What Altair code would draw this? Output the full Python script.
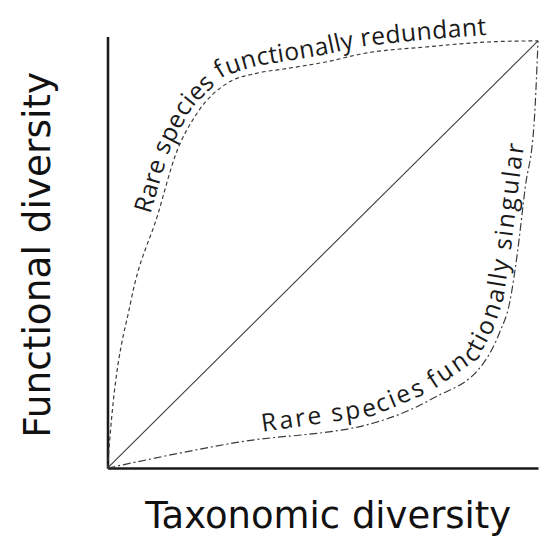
import math
import numpy as np
import pandas as pd
import altair as alt

# ---------------- data (unit square) ----------------
diag_x = [0.0, 1.0]
diag_y = [0.0, 1.0]

upper_x = [0.0, 0.007, 0.055, 0.117, 0.158, 0.209, 0.278, 0.346, 0.415, 0.514, 0.592, 0.743, 0.897, 1.0]
upper_y = [0.0, 0.088, 0.394, 0.594, 0.733, 0.832, 0.901, 0.924, 0.935, 0.952, 0.970, 0.986, 0.998, 1.0]

lower_x = [0.0, 0.300, 0.620, 0.757, 0.872, 0.911, 0.934, 0.952, 0.970, 0.991, 1.0]
lower_y = [0.0, 0.060, 0.106, 0.164, 0.244, 0.318, 0.387, 0.503, 0.655, 0.809, 1.0]

upper_label = "Rare species functionally redundant"
lower_label = "Rare species functionally singular"
x_title = "Taxonomic diversity"
y_title = "Functional diversity"

# ---------------- layout / style ----------------
W, H = 437, 438
YMAX = 1.01
TITLE_FONT = "DejaVu Sans"
CURVE_FONT = "Open Sans"
INK = "#1a1a1a"

# Open Sans advance widths (per 1000 em) used to space letters along the curves
WIDTHS = {" ": 260, "R": 628, "a": 556, "r": 408, "e": 561, "s": 479, "p": 613,
          "c": 480, "i": 258, "f": 344, "u": 613, "n": 613, "t": 352, "o": 602,
          "l": 258, "y": 500, "d": 613, "g": 539}


def curve_text(label, xs, ys, start_xy, end_xy, offset, fs):
    """Lay the label's letters along a path parallel to the curve (offset px
    to the left of the direction of travel), between two points of the curve."""
    X = np.array(xs) * W
    Y = (YMAX - np.array(ys)) * H / YMAX
    seg = np.hypot(np.diff(X), np.diff(Y))
    cum = np.concatenate([[0.0], np.cumsum(seg)])
    L = cum[-1]

    def pt(s):
        s = np.clip(s, 0.0, L)
        return np.interp(s, cum, X), np.interp(s, cum, Y)

    # dense samples of the curve, smoothed tangents, offset path
    ss = np.linspace(0, L, int(L) * 2 + 1)
    h = 12.0
    xa, ya = pt(ss - h)
    xb, yb = pt(ss + h)
    tx, ty = xb - xa, yb - ya
    nrm = np.hypot(tx, ty)
    nrm[nrm == 0] = 1.0
    tx, ty = tx / nrm, ty / nrm
    px, py = pt(ss)
    qx, qy = px + ty * offset, py - tx * offset
    qcum = np.concatenate([[0.0], np.cumsum(np.hypot(np.diff(qx), np.diff(qy)))])
    ang = np.degrees(np.unwrap(np.arctan2(ty, tx)))

    def nearest_t(xy):
        ex, ey = xy[0] * W, (YMAX - xy[1]) * H / YMAX
        i = int(np.argmin((qx - ex) ** 2 + (qy - ey) ** 2))
        return qcum[i]

    t0, t1 = nearest_t(start_xy), nearest_t(end_xy)
    adv = [WIDTHS.get(c, 550) * fs / 1000.0 for c in label]
    k = (t1 - t0) / sum(adv)
    rows = []
    acc = 0.0
    for c, a in zip(label, adv):
        t = t0 + k * (acc + a / 2.0)
        acc += a
        if c == " ":
            continue
        cx = float(np.interp(t, qcum, qx))
        cy = float(np.interp(t, qcum, qy))
        ca = float(np.interp(t, qcum, ang)) % 360
        rows.append({"x": cx / W, "y": YMAX - cy * YMAX / H, "ch": c, "angle": ca, "fs": fs})
    return rows


chars = pd.DataFrame(
    curve_text(upper_label, upper_x, upper_y, (0.075, 0.60), (0.88, 1.02), 7.5, 25)
    + curve_text(lower_label, lower_x, lower_y, (0.36, 0.06), (0.965, 0.76), 7.0, 25)
)

df_diag = pd.DataFrame({"x": diag_x, "y": diag_y})
df_up = pd.DataFrame({"x": upper_x, "y": upper_y})
df_lo = pd.DataFrame({"x": lower_x, "y": lower_y})

xaxis = alt.Axis(title=x_title, ticks=False, labels=False, grid=False,
                 domainColor=INK, domainWidth=2.6,
                 titleFont=TITLE_FONT, titleFontSize=37.5, titleFontWeight="normal",
                 titleColor="#111111", titleBaseline="alphabetic", titleY=60, titleX=W / 2 + 5)
yaxis = alt.Axis(title=y_title, ticks=False, labels=False, grid=False,
                 domainColor=INK, domainWidth=2.6,
                 titleFont=TITLE_FONT, titleFontSize=38, titleFontWeight="normal",
                 titleColor="#111111", titleBaseline="alphabetic", titleAngle=270,
                 titleAlign="center", titleX=-59, titleY=221)

xs = alt.Scale(domain=[0, 1], nice=False, zero=False)
ys = alt.Scale(domain=[0, YMAX], nice=False, zero=False)
X = alt.X("x:Q", scale=xs, axis=xaxis)
Y = alt.Y("y:Q", scale=ys, axis=yaxis)

diag = alt.Chart(df_diag).mark_line(color="#3a3a3a", strokeWidth=1.1).encode(x=X, y=Y)
up = alt.Chart(df_up).mark_line(color="#3a3a3a", strokeWidth=1.2, strokeDash=[4, 3],
                                interpolate="monotone").encode(x=X, y=Y)
lo = alt.Chart(df_lo).mark_line(color="#3a3a3a", strokeWidth=1.2, strokeDash=[8, 3, 2, 3],
                                interpolate="monotone").encode(x=X, y=Y)
txt = alt.Chart(chars).mark_text(font=CURVE_FONT, align="center",
                                 baseline="alphabetic", color=INK).encode(
    x=X, y=Y, text="ch:N",
    angle=alt.Angle("angle:Q", scale=None),
    size=alt.Size("fs:Q", scale=None, legend=None))

chart = alt.layer(diag, up, lo, txt).properties(
    width=W, height=H,
    autosize=alt.AutoSizeParams(type="none"),
    padding={"left": 101, "top": 25, "right": 2, "bottom": 70},
).configure_view(stroke=None)

chart.save("out.html", embed_options={"renderer": "svg", "actions": False})
